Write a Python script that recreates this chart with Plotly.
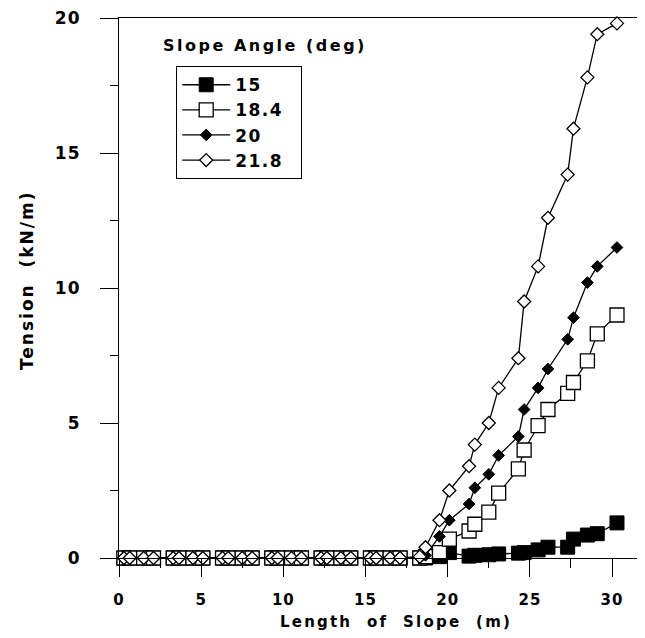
import plotly.graph_objects as go

# Positions along the slope (m)
length_m = [0.3, 0.65, 1.5, 2.1, 3.3, 3.65, 4.5, 5.1, 6.3, 6.65, 7.5, 8.1,
            9.3, 9.65, 10.5, 11.1, 12.3, 12.65, 13.5, 14.1, 15.3, 15.65, 16.5, 17.1,
            18.3, 18.65, 19.5, 20.1, 21.3, 21.65, 22.5, 23.1, 24.3, 24.65, 25.5, 26.1,
            27.3, 27.65, 28.5, 29.1, 30.3]

# Tension (kN/m) for each slope angle
zeros24 = [0.0] * 24
tension_15 = zeros24 + [0.0, 0.0, 0.05, 0.2, 0.07, 0.1, 0.12, 0.15, 0.18, 0.2, 0.3, 0.4,
                        0.4, 0.7, 0.85, 0.9, 1.3]
tension_184 = zeros24 + [0.0, 0.05, 0.2, 0.7, 1.0, 1.25, 1.7, 2.4, 3.3, 4.0, 4.9, 5.5,
                         6.1, 6.5, 7.3, 8.3, 9.0]
tension_20 = zeros24 + [0.0, 0.1, 0.8, 1.4, 2.0, 2.6, 3.1, 3.8, 4.5, 5.5, 6.3, 7.0,
                        8.1, 8.9, 10.2, 10.8, 11.5]
tension_218 = zeros24 + [0.05, 0.4, 1.4, 2.5, 3.4, 4.2, 5.0, 6.3, 7.4, 9.5, 10.8, 12.6,
                         14.2, 15.9, 17.8, 19.4, 19.8]

series_names = ["15", "18.4", "20", "21.8"]
x_ticks = [0, 5, 10, 15, 20, 25, 30]
y_ticks = [0, 5, 10, 15, 20]

FONT = "DejaVu Sans"
BLACK = "black"

# page body has an 8px margin; figure sized so the plot area lands where the reference has it
FIG_W, FIG_H = 637, 630
ML, MR, MT, MB = 111, 5, 10, 80
PW = FIG_W - ML - MR
PH = FIG_H - MT - MB


def spaced(t, px=1.5):
    return '<span style="letter-spacing:%spx">%s</span>' % (px, t)


def px_x(px):  # page pixel -> paper x
    return (px - 8 - ML) / PW


def px_y(py):  # page pixel -> paper y
    return (FIG_H - MB - (py - 8)) / PH


fig = go.Figure()

styles = [
    (tension_15, dict(symbol="square", size=14, color=BLACK, line=dict(color=BLACK, width=1))),
    (tension_184, dict(symbol="square", size=14, color="white", line=dict(color=BLACK, width=1.3))),
    (tension_20, dict(symbol="diamond", size=9, color=BLACK, line=dict(color=BLACK, width=1))),
    (tension_218, dict(symbol="diamond", size=10, color="white", line=dict(color=BLACK, width=1.3))),
]
for name, (vals, mk) in zip(series_names, styles):
    fig.add_trace(go.Scatter(
        x=length_m, y=vals, name=spaced(name, 1.5) + "&nbsp;&nbsp;", mode="lines+markers",
        line=dict(color=BLACK, width=1.3), marker=mk, cliponaxis=False,
    ))

fig.update_layout(
    width=FIG_W, height=FIG_H,
    margin=dict(l=ML, r=MR, t=MT, b=MB),
    paper_bgcolor="white", plot_bgcolor="white",
    font=dict(family=FONT, color=BLACK, size=16, weight="bold"),
    showlegend=True,
    legend=dict(
        x=px_x(176), y=px_y(66), xanchor="left", yanchor="top",
        bgcolor="white", bordercolor=BLACK, borderwidth=1.2,
        font=dict(family=FONT, size=17, weight="bold"),
        itemwidth=48, tracegroupgap=0,
    ),
    xaxis=dict(
        range=[0, 31.7], tickvals=x_ticks, ticktext=[spaced(str(v), 1) for v in x_ticks],
        ticks="outside", ticklen=18, tickwidth=1.2,
        tickcolor=BLACK, showline=True, linecolor=BLACK, linewidth=1.2, mirror=True,
        showgrid=False, zeroline=False, automargin=False,
        minor=dict(dtick=2.5, ticklen=9, tickcolor=BLACK, ticks="outside", tickwidth=1),
        tickfont=dict(family=FONT, size=15, weight="bold"),
        ticklabelstandoff=10, ticklabeloverflow="allow",
    ),
    yaxis=dict(
        range=[0, 20], tickvals=y_ticks, ticktext=[spaced(str(v), 1) for v in y_ticks],
        ticks="outside", ticklen=18, tickwidth=1.2,
        tickcolor=BLACK, showline=True, linecolor=BLACK, linewidth=1.2, mirror=False,
        showgrid=False, zeroline=False, automargin=False,
        minor=dict(dtick=2.5, ticklen=8, tickcolor=BLACK, ticks="outside", tickwidth=1),
        tickfont=dict(family=FONT, size=17, weight="bold"),
        ticklabelstandoff=16, ticklabeloverflow="allow",
    ),
    annotations=[
        dict(text=spaced("Slope Angle (deg)", 2.5), xref="paper", yref="paper",
             x=px_x(161), y=px_y(46), xanchor="left", yanchor="middle", showarrow=False,
             font=dict(family=FONT, size=16, weight="bold", color=BLACK)),
        dict(text=spaced("Length  of  Slope  (m)", 2.2), xref="paper", yref="paper",
             x=px_x(396), y=px_y(622), xanchor="center", yanchor="middle",
             showarrow=False,
             font=dict(family=FONT, size=15, weight="bold", color=BLACK)),
        dict(text=spaced("Tension  (kN/m)", 2), xref="paper", yref="paper",
             x=px_x(27), y=px_y(280), xanchor="center", yanchor="middle", textangle=-90,
             showarrow=False,
             font=dict(family=FONT, size=17, weight="bold", color=BLACK)),
    ],
)

fig.write_html("out.html")
